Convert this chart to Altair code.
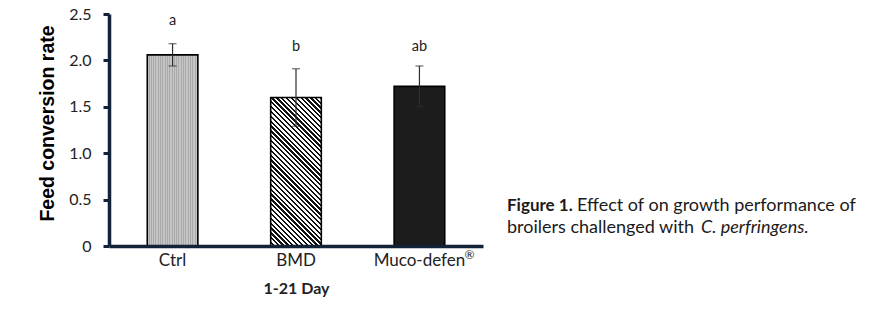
import altair as alt
import pandas as pd

# ---- data ----
groups = ["Ctrl", "BMD", "Muco-defen®"]
fcr = [2.06, 1.60, 1.72]
err = [0.12, 0.31, 0.22]
letters = ["a", "b", "ab"]
letter_y = [2.42, 2.14, 2.14]
y_ticks = [0, 0.5, 1.0, 1.5, 2.0, 2.5]
y_title = "Feed conversion rate"
x_title = "1-21 Day"
cap_bold = ["Figure 1."]
cap_rest1 = ["Effect of on growth performance of"]
cap_line2 = ["broilers challenged with"]
cap_italic = ["C. perfringens."]
sup_group = ["Muco-defen®"]
sup_text = ["®"]

df = pd.DataFrame({
    "group": groups,
    "fcr": fcr,
    "lo": [v - e for v, e in zip(fcr, err)],
    "hi": [v + e for v, e in zip(fcr, err)],
    "letter": letters,
    "ly": letter_y,
})

W, H = 374, 232
LEFT, TOP = 109, 14
NAVY = "#122238"
YMAX = 2.5
P_IN, P_OUT = 0.59, 0.31
step = W / (3 - P_IN + 2 * P_OUT)
bw = step * (1 - P_IN)


def stripe_stops(c_a, c_b, periods, frac_a):
    stops = []
    for i in range(periods):
        o0 = i / periods
        o1 = (i + frac_a) / periods
        o2 = (i + 1) / periods
        stops += [
            {"offset": o0, "color": c_a},
            {"offset": o1, "color": c_a},
            {"offset": o1, "color": c_b},
            {"offset": o2, "color": c_b},
        ]
    return stops


# Ctrl: fine vertical stripes on light grey
ctrl_fill = {
    "gradient": "linear", "x1": 0, "y1": 0, "x2": 1, "y2": 0,
    "stops": stripe_stops("#c6c6c6", "#a9a9a9", 22, 0.55),
}

# BMD: 45 degree black/white hatch (bounding-box units corrected for aspect)
h_bmd = fcr[1] / YMAX * H
s = (bw + h_bmd) / (bw ** 2 + h_bmd ** 2)
L = (bw + h_bmd) / 2 ** 0.5
bmd_fill = {
    "gradient": "linear", "x1": 0, "y1": 1, "x2": s * bw, "y2": 1 - s * h_bmd,
    "stops": stripe_stops("#ffffff", "#111111", int(round(L / 3.4)), 0.52),
}

muco_fill = "#1c1c1c"

x_axis = alt.Axis(
    labelAngle=0, ticks=False, labelPadding=6, labelFont="Lato",
    labelFontSize=17, labelColor="#222222",
    labelExpr="replace(datum.label, '®', '')",
    titleFont="Lato",
    titleFontWeight="bold", titleFontSize=16, titleColor="#222222",
    titleY=42, titleBaseline="middle", domainColor=NAVY, domainWidth=3.5,
    grid=False, zindex=1,
)
y_axis = alt.Axis(
    values=y_ticks,
    labelExpr="datum.value == 0 ? '0' : format(datum.value, '.1f')",
    tickSize=6, tickWidth=3, tickColor=NAVY, domainColor=NAVY,
    domainWidth=3.5, labelPadding=12, labelFont="Lato", labelFontSize=16,
    labelColor="#222222", titleFont="Liberation Sans", titleFontSize=19.5,
    titleFontWeight="bold", titleColor="#000000", titleAngle=270,
    titleX=-62, titleY=109, titleAlign="center", titleBaseline="middle",
    grid=False, zindex=1,
)
x_scale = alt.Scale(paddingInner=P_IN, paddingOuter=P_OUT)
y_scale = alt.Scale(domain=[0, YMAX], nice=False)


def X():
    return alt.X("group:N", sort=groups, title=x_title, scale=x_scale, axis=x_axis)


def Y(field):
    return alt.Y(field, title=y_title, scale=y_scale, axis=y_axis)


base = alt.Chart(df)

bars = [
    base.transform_filter(alt.datum.group == g).mark_bar(
        fill=f, stroke="#000000", strokeWidth=1.6
    ).encode(x=X(), y=Y("fcr:Q"))
    for g, f in zip(groups, [ctrl_fill, bmd_fill, muco_fill])
]

EB = "#2e2e2e"
err_rule = base.mark_rule(color=EB, strokeWidth=1.2).encode(
    x=X(), y=Y("lo:Q"), y2="hi:Q"
)
cap_hi = base.mark_tick(color=EB, thickness=1.2, size=8).encode(
    x=X(), y=Y("hi:Q")
)
cap_lo = base.mark_tick(color=EB, thickness=1.2, size=8).encode(
    x=X(), y=Y("lo:Q")
)
sig = base.mark_text(font="Lato", fontSize=14.5, color="#222222",
                     baseline="middle").encode(
    x=X(), y=Y("ly:Q"), text="letter:N"
)

sup = alt.Chart(pd.DataFrame({"group": sup_group, "t": sup_text})).mark_text(
    font="Lato", fontSize=12, color="#222222", align="left",
    baseline="middle", dx=45
).encode(x=X(), y=alt.value(H + 9), text="t:N")


def caption(texts, xv, yv, size, **kw):
    return alt.Chart(pd.DataFrame({"t": texts})).mark_text(
        font="Lato", fontSize=size, color="#1a1a1a", align="left",
        baseline="alphabetic", **kw
    ).encode(x=alt.value(xv), y=alt.value(yv), text="t:N")


cap1 = caption(cap_bold, 398, 196.5, 17, fontWeight="bold")
cap2 = caption(cap_rest1, 468, 196.5, 18)
cap3 = caption(cap_line2, 398, 218.7, 18)
cap4 = caption(cap_italic, 592, 218.7, 18, fontStyle="italic")

chart = alt.layer(
    *bars, err_rule, cap_hi, cap_lo, sig, sup, cap1, cap2, cap3, cap4
).properties(
    width=W, height=H,
    autosize=alt.AutoSizeParams(type="none"),
    padding={"left": LEFT, "top": TOP, "right": 875 - LEFT - W,
             "bottom": 309 - TOP - H},
    background="#ffffff",
).configure_view(stroke=None)

chart.save("out.html", embed_options={"renderer": "svg", "actions": False})
